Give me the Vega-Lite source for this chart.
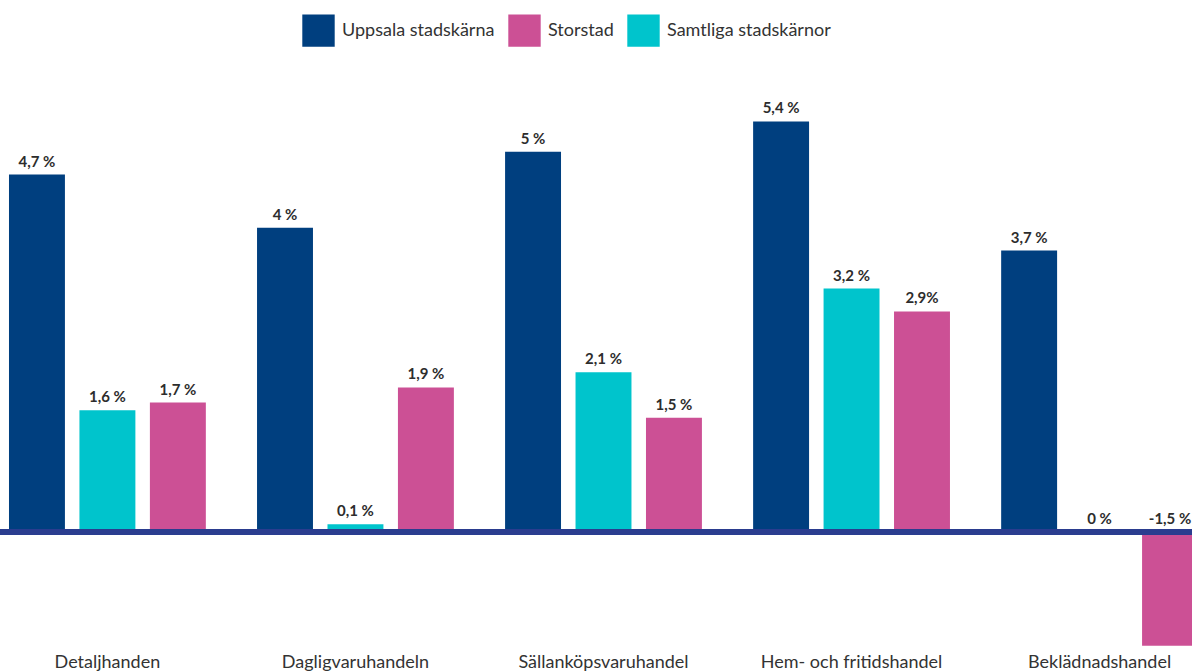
{
  "$schema": "https://vega.github.io/schema/vega-lite/v6.json",
  "width": 1192,
  "height": 671,
  "autosize": {"type": "none"},
  "padding": 0,
  "background": "white",
  "config": {"view": {"stroke": null}, "font": "Lato"},
  "data": {
    "values": [
      {"kategori": "Detaljhanden", "serie": "Uppsala stadskärna", "value": 4.7, "label": "4,7 %"},
      {"kategori": "Detaljhanden", "serie": "Samtliga stadskärnor", "value": 1.6, "label": "1,6 %"},
      {"kategori": "Detaljhanden", "serie": "Storstad", "value": 1.7, "label": "1,7 %"},
      {"kategori": "Dagligvaruhandeln", "serie": "Uppsala stadskärna", "value": 4.0, "label": "4 %"},
      {"kategori": "Dagligvaruhandeln", "serie": "Samtliga stadskärnor", "value": 0.1, "label": "0,1 %"},
      {"kategori": "Dagligvaruhandeln", "serie": "Storstad", "value": 1.9, "label": "1,9 %"},
      {"kategori": "Sällanköpsvaruhandel", "serie": "Uppsala stadskärna", "value": 5.0, "label": "5 %"},
      {"kategori": "Sällanköpsvaruhandel", "serie": "Samtliga stadskärnor", "value": 2.1, "label": "2,1 %"},
      {"kategori": "Sällanköpsvaruhandel", "serie": "Storstad", "value": 1.5, "label": "1,5 %"},
      {"kategori": "Hem- och fritidshandel", "serie": "Uppsala stadskärna", "value": 5.4, "label": "5,4 %"},
      {"kategori": "Hem- och fritidshandel", "serie": "Samtliga stadskärnor", "value": 3.2, "label": "3,2 %"},
      {"kategori": "Hem- och fritidshandel", "serie": "Storstad", "value": 2.9, "label": "2,9%"},
      {"kategori": "Beklädnadshandel", "serie": "Uppsala stadskärna", "value": 3.7, "label": "3,7 %"},
      {"kategori": "Beklädnadshandel", "serie": "Samtliga stadskärnor", "value": 0.0, "label": "0 %"},
      {"kategori": "Beklädnadshandel", "serie": "Storstad", "value": -1.5, "label": "-1,5 %"}
    ]
  },
  "layer": [
    {
      "mark": {"type": "bar"},
      "encoding": {
        "x": {
          "field": "kategori", "type": "nominal",
          "sort": ["Detaljhanden", "Dagligvaruhandeln", "Sällanköpsvaruhandel", "Hem- och fritidshandel", "Beklädnadshandel"],
          "scale": {"range": [0, 1207], "paddingInner": 0.2064, "paddingOuter": 0.03625},
          "axis": null
        },
        "xOffset": {
          "field": "serie", "type": "nominal",
          "sort": ["Uppsala stadskärna", "Samtliga stadskärnor", "Storstad"],
          "scale": {"paddingInner": 0.206, "paddingOuter": 0}
        },
        "y": {
          "field": "value", "type": "quantitative",
          "scale": {"domain": [-1.8316, 6.9974], "nice": false, "zero": false},
          "axis": null
        },
        "color": {
          "field": "serie", "type": "nominal",
          "scale": {
            "domain": ["Uppsala stadskärna", "Storstad", "Samtliga stadskärnor"],
            "range": ["#003f7f", "#cc5095", "#00c4cc"]
          },
          "legend": {
            "title": null,
            "orient": "none",
            "direction": "horizontal",
            "legendX": 302,
            "legendY": 14,
            "padding": 0,
            "symbolType": "square",
            "symbolSize": 1050,
            "symbolStrokeWidth": 0,
            "symbolOpacity": 1,
            "labelFont": "Lato",
            "labelFontSize": 18,
            "labelColor": "#333333",
            "labelOffset": 7,
            "columnPadding": 13,
            "labelLimit": 300
          }
        }
      }
    },
    {
      "transform": [{"calculate": "max(datum.value, 0)", "as": "ly"}],
      "mark": {"type": "text", "font": "Lato", "fontWeight": "bold", "fontSize": 15, "color": "#2d2d2d", "baseline": "alphabetic", "dy": -8},
      "encoding": {
        "x": {"field": "kategori", "type": "nominal", "sort": ["Detaljhanden", "Dagligvaruhandeln", "Sällanköpsvaruhandel", "Hem- och fritidshandel", "Beklädnadshandel"]},
        "xOffset": {"field": "serie", "type": "nominal", "sort": ["Uppsala stadskärna", "Samtliga stadskärnor", "Storstad"]},
        "y": {"field": "ly", "type": "quantitative"},
        "text": {"field": "label"}
      }
    },
    {
      "mark": {"type": "rule", "color": "#2b3d8f", "strokeWidth": 5},
      "encoding": {"y": {"datum": 0, "type": "quantitative"}}
    },
    {
      "transform": [{"filter": "datum.serie === 'Uppsala stadskärna'"}],
      "mark": {"type": "text", "font": "Lato", "fontSize": 18, "color": "#333333", "baseline": "alphabetic"},
      "encoding": {
        "x": {"field": "kategori", "type": "nominal", "sort": ["Detaljhanden", "Dagligvaruhandeln", "Sällanköpsvaruhandel", "Hem- och fritidshandel", "Beklädnadshandel"]},
        "y": {"datum": -1.795, "type": "quantitative"},
        "text": {"field": "kategori"}
      }
    }
  ]
}
